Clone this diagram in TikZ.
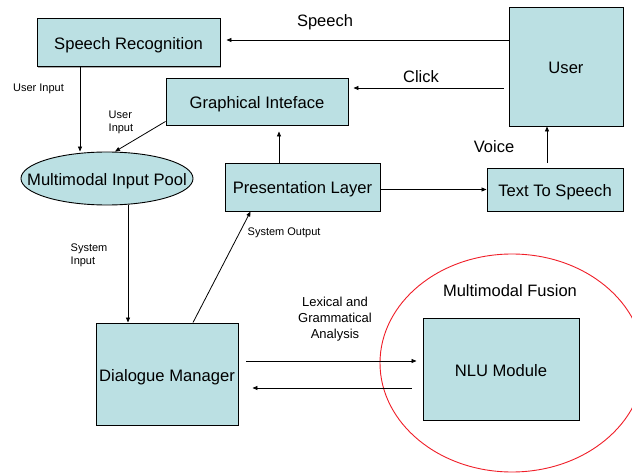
\documentclass[tikz,border=0pt]{standalone}
\usepackage{fontspec}
\setmainfont{Liberation Sans}
\usetikzlibrary{arrows.meta,shapes.geometric,shadows}
\definecolor{boxfill}{RGB}{187,224,227}
\definecolor{fusionred}{RGB}{240,30,40}
\tikzset{
  box/.style={draw=black, fill=boxfill, line width=0.9pt, inner sep=0pt, align=center,
    font=\fontsize{16.6}{19}\selectfont, text height=15.5pt, text depth=1.5pt,
    drop shadow={shadow xshift=1.3pt, shadow yshift=-1.3pt, fill=gray!65, opacity=1}},
  pool/.style={ellipse, draw=black, fill=boxfill, line width=0.9pt, inner sep=0pt},
  arr/.style={draw=black, line width=0.8pt, -{Triangle[length=5pt,width=4pt]}},
  biglab/.style={font=\fontsize{16.5}{19}\selectfont, inner sep=0pt},
  midlab/.style={font=\fontsize{13}{16}\selectfont, inner sep=0pt, align=center},
  smalllab/.style={font=\fontsize{11}{13}\selectfont, inner sep=0pt, align=left},
}
\begin{document}
\begin{tikzpicture}[x=1pt,y=-1pt]
\clip (0,0) rectangle (632,473);
\fill[white] (0,0) rectangle (632,473);

% fusion region
\node[ellipse, draw=fusionred, line width=0.9pt, minimum width=264pt, minimum height=218pt, inner sep=0pt] (fusion) at (512,363) {};
\node[biglab] (fusionlab) at (510,291) {Multimodal Fusion};

% boxes
\node[box, minimum width=183pt, minimum height=48pt] (sr) at (128.5,42.5) {Speech Recognition};
\node[box, minimum width=182pt, minimum height=47pt] (gi) at (257,101.5) {Graphical Inteface};
\node[pool, minimum width=172pt, minimum height=53pt,
  label={[font=\fontsize{16.6}{19}\selectfont, inner sep=0pt, text height=16pt, text depth=1pt]center:Multimodal Input Pool}] (pool) at (107,178.5) {};
\node[box, minimum width=155pt, minimum height=48pt] (pl) at (302.5,187) {Presentation Layer};
\node[box, minimum width=114pt, minimum height=119pt] (user) at (566,66.5) {User};
\node[box, minimum width=136pt, minimum height=43pt] (tts) at (555,189.5) {Text To Speech};
\node[box, minimum width=142pt, minimum height=102pt] (dm) at (167,374) {Dialogue Manager};
\node[box, minimum width=156pt, minimum height=102pt] (nlu) at (501,369) {NLU Module};

% connectors
\draw[arr, shorten >=6pt] ([yshift=2.5pt]sr.east -| user.west) -- ([yshift=2.5pt]sr.east);
\draw[arr, shorten <=5pt, shorten >=5pt] ([yshift=13.5pt]gi.east -| user.west) -- ([yshift=13.5pt]gi.east);
\draw[arr, shorten <=5pt] ([xshift=-8pt]tts.north) -- ([xshift=-8pt]tts.north |- user.south);
\draw[arr] (pl.east |- tts.west) -- (tts.west);
\draw[arr, shorten >=6pt] ([xshift=-23.5pt]pl.north) -- ([xshift=-23.5pt]pl.north |- gi.south);
\draw[arr] ([xshift=-48.5pt]sr.south) -- ([xshift=-48.5pt]sr.south |- pool.north);
\draw[arr] ([yshift=4pt]gi.south west) -- ([xshift=8pt]pool.north);
\draw[arr] ([xshift=21pt]pool.south) -- ([xshift=21pt]pool.south |- dm.north);
\draw[arr] ([xshift=26pt]dm.north) -- ([xshift=26pt]pl.south west);
\draw[arr, shorten <=8pt, shorten >=6pt] ([yshift=13pt]dm.east) -- ([yshift=13pt]dm.east -| nlu.west);
\draw[arr, shorten <=11pt, shorten >=14pt] ([yshift=-14pt]dm.east -| nlu.west) -- ([yshift=-14pt]dm.east);

% labels
\node[biglab] (speechlab) at (325,22.5) {Speech};
\node[biglab] (clicklab) at (421,76.5) {Click};
\node[biglab] (voicelab) at (494,146.5) {Voice};
\node[smalllab] (ui1) at (38.5,89) {User Input};
\node[smalllab, anchor=west] (ui2) at (108.5,122.5) {User\\Input};
\node[smalllab, anchor=west] (si) at (70.5,255.5) {System\\Input};
\node[smalllab, anchor=west] (so) at (247.5,232.5) {System Output};
\node[midlab] (lga) at (335,319) {Lexical and\\Grammatical\\Analysis};
\end{tikzpicture}
\end{document}
